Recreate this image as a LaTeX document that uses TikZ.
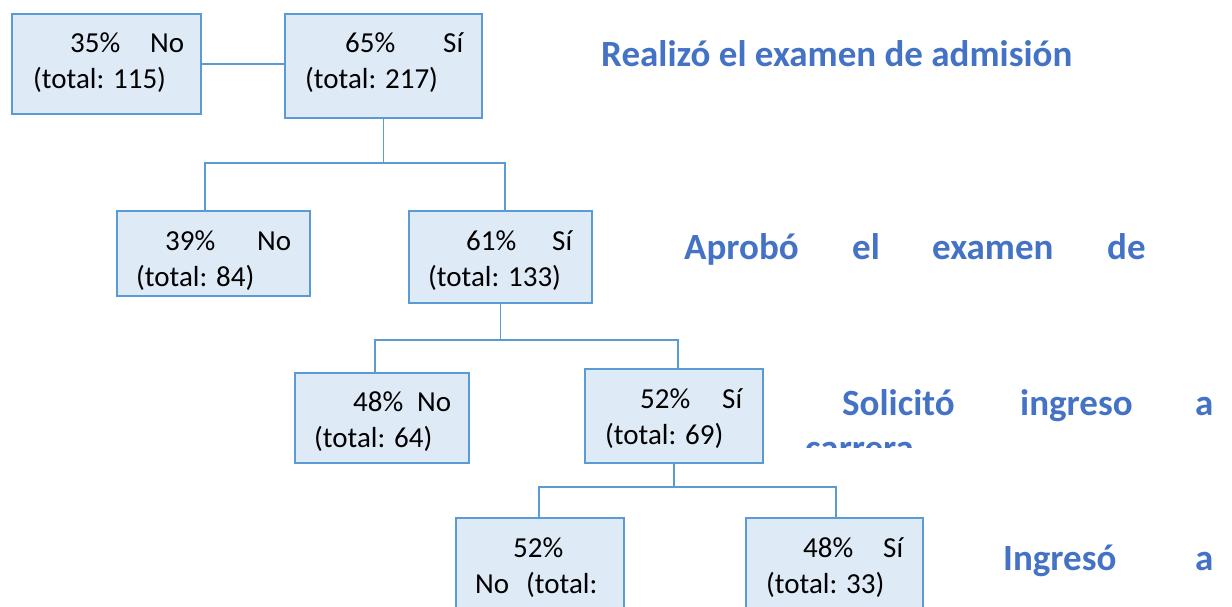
\documentclass[tikz,border=0pt]{standalone}
\usepackage{fontspec}
\setmainfont{Carlito}
\definecolor{boxfill}{HTML}{DEEBF7}
\definecolor{boxline}{HTML}{5B9BD5}
\definecolor{lbl}{HTML}{4472C4}
\begin{document}
\begin{tikzpicture}[x=1pt,y=-1pt,
  box/.style={draw=boxline,fill=boxfill,line width=2.3pt,inner sep=0pt},
  conn/.style={draw=boxline,line width=1.3pt},
  txt/.style={inner sep=0pt,anchor=base west,font=\fontsize{29}{35}\selectfont},
  lab/.style={inner sep=0pt,anchor=base west,text=lbl,font=\fontsize{37}{44}\selectfont\bfseries}]
\useasboundingbox (0,0) rectangle (1232,606);
\begin{scope}
\clip (0,0) rectangle (1232,606);
% boxes
\node[box,minimum width=189pt,minimum height=100pt] (A) at (106.5,64) {};
\node[box,minimum width=197pt,minimum height=104pt] (B) at (383.5,66) {};
\node[box,minimum width=193pt,minimum height=85pt] (C) at (213.5,253.5) {};
\node[box,minimum width=183pt,minimum height=92pt] (D) at (500.5,257) {};
\node[box,minimum width=174pt,minimum height=90pt] (E) at (382,418) {};
\node[box,minimum width=178pt,minimum height=94pt] (F) at (674,416) {};
\node[box,minimum width=168pt,minimum height=100pt] (G) at (540,568) {};
\node[box,minimum width=177pt,minimum height=100pt] (H) at (834.5,568) {};
% texts
\node[txt] (a1) at (70,52) {35\%};
\node[txt] (a2) at (150,52) {No};
\node[txt] (a3) at (33,88) {(total: 115)};
\node[txt] (b1) at (345,52) {65\%};
\node[txt] (b2) at (443,52) {Sí};
\node[txt] (b3) at (305,88) {(total: 217)};
\node[txt] (c1) at (165,250) {39\%};
\node[txt] (c2) at (257,250) {No};
\node[txt] (c3) at (136,286) {(total: 84)};
\node[txt] (d1) at (466,250) {61\%};
\node[txt] (d2) at (552,250) {Sí};
\node[txt] (d3) at (428,286) {(total: 133)};
\node[txt] (e1) at (353,411) {48\%};
\node[txt] (e2) at (417,411) {No};
\node[txt] (e3) at (314,447) {(total: 64)};
\node[txt] (f1) at (640,408) {52\%};
\node[txt] (f2) at (722,408) {Sí};
\node[txt] (f3) at (605,444) {(total: 69)};
\node[txt] (g1) at (513,557) {52\%};
\node[txt] (g2) at (475,593) {No};
\node[txt] (g3) at (526,593) {(total:};
\node[txt] (h1) at (803,557) {48\%};
\node[txt] (h2) at (883,557) {Sí};
\node[txt] (h3) at (766,593) {(total: 33)};
% connectors
\coordinate (j1l) at (205,163);
\coordinate (j1r) at (505,163);
\coordinate (j2l) at (375,340);
\coordinate (j2r) at (678,340);
\coordinate (j3l) at (539,487);
\coordinate (j3r) at (836,487);
\draw[conn] (A.east) -- (B.west |- A.east);
\draw[conn] (B.south) -- (B.south |- j1l);
\draw[conn] (C.north -| j1l) -- (j1l) -- (j1r) -- (D.north -| j1r);
\draw[conn] (D.south) -- (D.south |- j2l);
\draw[conn] (E.north -| j2l) -- (j2l) -- (j2r) -- (F.north -| j2r);
\draw[conn] (F.south) -- (F.south |- j3l);
\draw[conn] (G.north -| j3l) -- (j3l) -- (j3r) -- (H.north -| j3r);
% labels
\node[lab] (l1) at (601,66) {Realizó el examen de admisión};
\node[lab] (l2a) at (684,259) {Aprobó};
\node[lab] (l2b) at (852,259) {el};
\node[lab] (l2c) at (932,259) {examen};
\node[lab] (l2d) at (1107,259) {de};
\node[lab] (l3a) at (842,415) {Solicitó};
\node[lab] (l3b) at (1020,415) {ingreso};
\node[lab] (l3c) at (1195,415) {a};
\begin{scope}
\clip (700,420) rectangle (1232,447);
\node[lab] (l3d) at (805,460) {carrera};
\end{scope}
\node[lab] (l4a) at (1003,570) {Ingresó};
\node[lab] (l4b) at (1195,570) {a};
\end{scope}
\end{tikzpicture}
\end{document}
